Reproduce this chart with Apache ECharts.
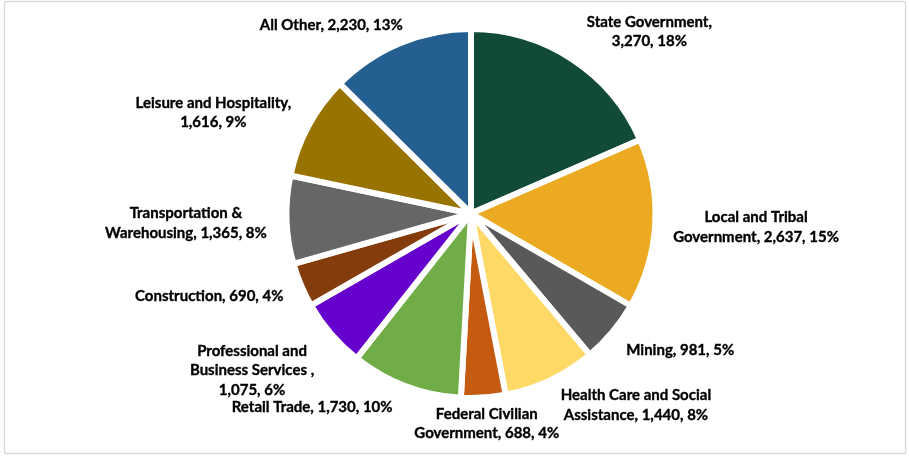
<!DOCTYPE html>
<html><head><meta charset="utf-8">
<script src="https://cdn.jsdelivr.net/npm/echarts@6/dist/echarts.min.js"></script>
<style>html,body{margin:0;padding:0;background:#fff}#c{width:909px;height:456px}</style>
</head><body><div id="c"></div>
<script>
// ---- data ----
const categories = ['State Government', 'Local and Tribal Government', 'Mining', 'Health Care and Social Assistance', 'Federal Civilian Government', 'Retail Trade', 'Professional and Business Services', 'Construction', 'Transportation & Warehousing', 'Leisure and Hospitality', 'All Other'];
const values = [3270, 2637, 981, 1440, 688, 1730, 1075, 690, 1365, 1616, 2230];
const percentLabels = ['18%', '15%', '5%', '8%', '4%', '10%', '6%', '4%', '8%', '9%', '13%'];
// label text as wrapped in the original
const labelNames = ['State Government,', 'Local and Tribal\nGovernment,', 'Mining,', 'Health Care and Social\nAssistance,', 'Federal Civilian\nGovernment,', 'Retail Trade,', 'Professional and\nBusiness Services ,', 'Construction,', 'Transportation &\nWarehousing,', 'Leisure and Hospitality,', 'All Other,'];
const breakBeforeValue = [true, false, false, false, false, false, true, false, false, true, false];

// ---- styles ----
const colors = ['#114A37', '#EBAA22', '#595959', '#FFD966', '#C55A11', '#70AD47', '#6600CC', '#843C0C', '#666666', '#997300', '#255E91'];
const CX = 471, CY = 213.5, R_OUT = 184.5, BW = 6;
const R_VIS = R_OUT - BW / 2, GAP = 15;
// per-label nudges (px) applied after geometric outside placement
const labelNudge = [[43, 25], [5, -2], [22, -20], [59, -31], [1, -10], [-76, -25], [-20, -15], [-14, -22], [-7, 0], [-16, 29], [-50, 27]];

const total = values.reduce((a, b) => a + b, 0);
const midAngles = [];
let acc = 0;
values.forEach(v => { midAngles.push((acc + v / 2) / total * 2 * Math.PI); acc += v; });

const chart = echarts.init(document.getElementById('c'));
chart.setOption({
  animation: false,
  backgroundColor: '#ffffff',
  graphic: [{
    type: 'rect', shape: { x: 4.5, y: 1.5, width: 901, height: 452, r: 2 },
    style: { fill: 'none', stroke: '#d9d9d9', lineWidth: 1.3 }, silent: true, z: 0
  }],
  series: [{
    type: 'pie',
    center: [CX, CY],
    radius: [0, R_OUT],
    startAngle: 90,
    clockwise: true,
    avoidLabelOverlap: false,
    itemStyle: { borderColor: '#ffffff', borderWidth: BW },
    label: {
      show: true,
      position: 'outside',
      fontFamily: 'Lato',
      fontWeight: 'bold',
      fontSize: 15,
      lineHeight: 19.5,
      color: '#000000',
      textBorderColor: '#000000',
      textBorderWidth: 0.35,
      formatter: p => {
        const i = p.dataIndex;
        return labelNames[i] + (breakBeforeValue[i] ? '\n' : ' ') + values[i].toLocaleString('en-US') + ', ' + percentLabels[i];
      }
    },
    labelLine: { show: false },
    labelLayout: p => {
      const i = p.dataIndex;
      const a = midAngles[i];
      const ux = Math.sin(a), uy = -Math.cos(a);
      const w = p.labelRect.width, h = p.labelRect.height;
      const e = w / 2 * Math.abs(ux) + h / 2 * Math.abs(uy);
      const d = R_VIS + GAP + e;
      return { x: CX + ux * d + labelNudge[i][0], y: CY + uy * d + labelNudge[i][1], align: 'center', verticalAlign: 'middle', hideOverlap: false };
    },
    emphasis: { disabled: true },
    data: categories.map((c, i) => ({ name: c, value: values[i], itemStyle: { color: colors[i] } }))
  }]
});
</script></body></html>
